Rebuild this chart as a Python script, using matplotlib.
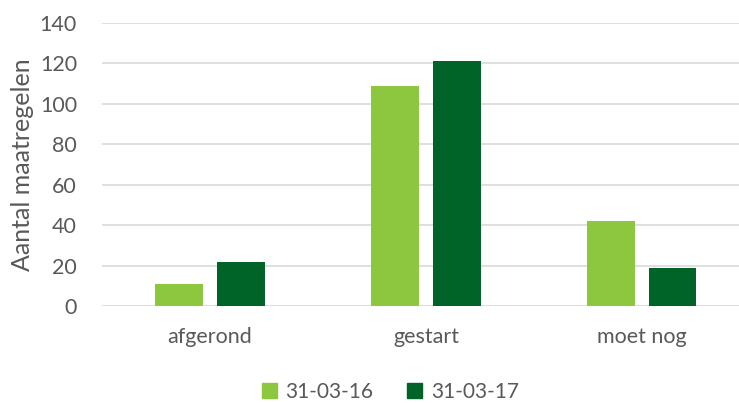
import numpy as np
import matplotlib.pyplot as plt
from matplotlib.patches import Patch

plt.rcParams['font.family'] = ['Lato', 'DejaVu Sans']

categories = ['afgerond', 'gestart', 'moet nog']
series_names = ['31-03-16', '31-03-17']
vals_2016 = [11, 109, 42]
vals_2017 = [22, 121, 19]

light = '#8DC63F'
dark = '#006428'
grey = '#595959'

fig = plt.figure(figsize=(7.39, 4.03), dpi=100)
ax = fig.add_axes([0.138, 0.2407, 0.862, 0.7023])

x = np.arange(len(categories))
w = 0.222
ax.bar(x - 0.142, vals_2016, width=w, color=light, zorder=3)
ax.bar(x + 0.142, vals_2017, width=w, color=dark, zorder=3)

ax.set_ylim(0, 140)
ax.set_xlim(-0.5, 2.45)
ax.set_yticks(np.arange(0, 141, 20))
ax.set_xticks(x)
ax.set_xticklabels(categories)
ax.grid(axis='y', color='#D9D9D9', linewidth=1.2, zorder=0)
ax.set_axisbelow(True)
for s in ax.spines.values():
    s.set_visible(False)
ax.tick_params(axis='both', length=0, labelsize=15.5, colors=grey)
ax.tick_params(axis='x', pad=15)
ax.tick_params(axis='y', pad=18)
ax.set_ylabel('Aantal maatregelen', fontsize=18, color=grey, labelpad=4)

handles = [Patch(color=light), Patch(color=dark)]
fig.legend(handles, series_names, loc='center', bbox_to_anchor=(0.528, 0.027),
           ncol=2, frameon=False, fontsize=15, labelcolor=grey,
           handlelength=0.75, handleheight=0.75, handletextpad=0.4, columnspacing=1.6)

fig.savefig('out.png', dpi=100)
